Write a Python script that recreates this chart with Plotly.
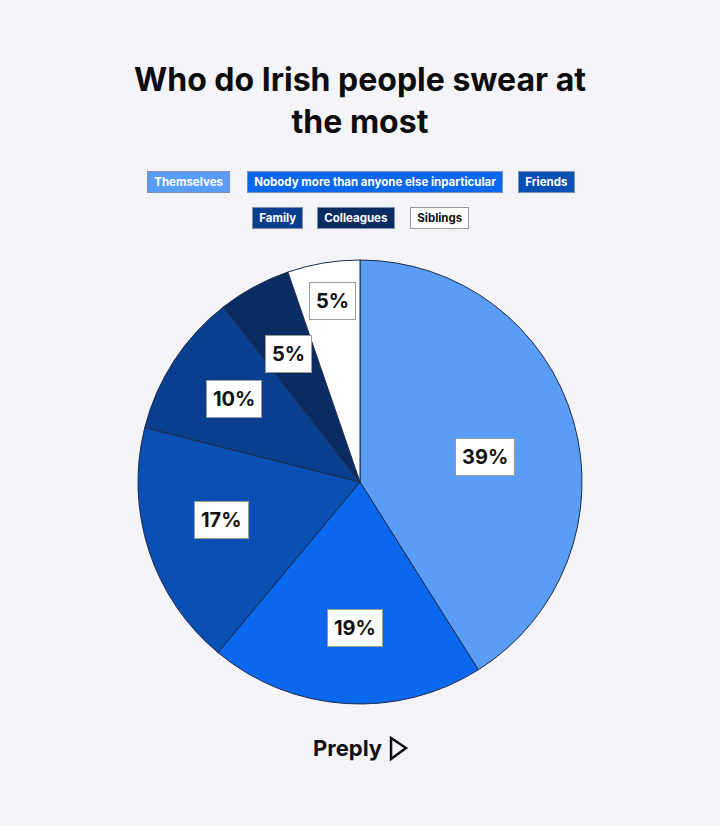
import math
import plotly.graph_objects as go

categories = ["Themselves", "Nobody more than anyone else inparticular", "Friends",
              "Family", "Colleagues", "Siblings"]
values = [39, 19, 17, 10, 5, 5]
value_labels = ["39%", "19%", "17%", "10%", "5%", "5%"]
colors = ["#5A9DF6", "#0A68EE", "#0A4FB4", "#0A3E8E", "#0A2C63", "#FFFFFF"]
legend_text_colors = ["#FFFFFF", "#FFFFFF", "#FFFFFF", "#FFFFFF", "#FFFFFF", "#111111"]

W, H = 720, 826
BG = "#F3F3F8"
CX, CY, R = 360, 482, 222
# label placement within each slice (fraction along the slice angle, fraction of radius)
label_angle_frac = [0.532, 0.475, 0.54, 0.50, 0.47, 0.54]
label_radius = [0.575, 0.66, 0.645, 0.68, 0.66, 0.825]

fig = go.Figure()
fig.add_trace(go.Pie(
    labels=categories, values=values, sort=False, direction="clockwise", rotation=0,
    marker=dict(colors=colors, line=dict(color="#1B2A4A", width=1)),
    textinfo="none", hoverinfo="label+value", showlegend=False,
    domain=dict(x=[(CX - R) / W, (CX + R) / W], y=[1 - (CY + R) / H, 1 - (CY - R) / H]),
))

annotations = []
total = sum(values)
cum = 0
for v, lab, af, rf in zip(values, value_labels, label_angle_frac, label_radius):
    ang = (cum + v * af) / total * 2 * math.pi
    cum += v
    px = CX + rf * R * math.sin(ang)
    py = CY - rf * R * math.cos(ang)
    annotations.append(dict(
        x=px / W, y=1 - py / H, xref="paper", yref="paper", text="<b>" + lab + "</b>",
        showarrow=False, font=dict(family="Inter, Open Sans, sans-serif", size=20, color="#111111"),
        bgcolor="#FFFFFF", bordercolor="#9A9A9A", borderwidth=1, borderpad=6,
        xanchor="center", yanchor="middle"))

# legend boxes
legend_pos = [(188, 182), (375, 182), (546, 182), (277, 218), (356, 218), (439, 218)]
for name, col, tcol, (lx, ly) in zip(categories, colors, legend_text_colors, legend_pos):
    annotations.append(dict(
        x=lx / W, y=1 - ly / H, xref="paper", yref="paper",
        text="&nbsp;<b>" + name + "</b>&nbsp;",
        showarrow=False, font=dict(family="Inter, Open Sans, sans-serif", size=11.5, color=tcol),
        bgcolor=col, bordercolor="#8090AA" if name != "Siblings" else "#999999",
        borderwidth=1, borderpad=3, xanchor="center", yanchor="middle"))

# title
annotations.append(dict(
    x=0.5, y=1 - 100 / H, xref="paper", yref="paper",
    text="<b>Who do Irish people swear at<br>the most</b>", showarrow=False,
    font=dict(family="Inter, Open Sans, sans-serif", size=32, color="#0D0D0D"),
    xanchor="center", yanchor="middle", align="center"))

# brand
annotations.append(dict(
    x=347 / W, y=1 - 748 / H, xref="paper", yref="paper", text="<b>Preply</b>",
    showarrow=False, font=dict(family="Inter, Open Sans, sans-serif", size=22, color="#111111"),
    xanchor="center", yanchor="middle"))

shapes = [dict(
    type="path", xref="paper", yref="paper",
    path="M {:.4f} {:.4f} L {:.4f} {:.4f} L {:.4f} {:.4f} L {:.4f} {:.4f} Z".format(
        391 / W, 1 - 738 / H, 406 / W, 1 - 748 / H, 391 / W, 1 - 759 / H, 391 / W, 1 - 738 / H),
    line=dict(color="#111111", width=2.5), fillcolor="rgba(0,0,0,0)")]

fig.update_layout(
    width=W, height=H, paper_bgcolor=BG, plot_bgcolor=BG,
    margin=dict(l=0, r=0, t=0, b=0), annotations=annotations, shapes=shapes,
)

fig.write_html("out.html", config={"displayModeBar": False},
               post_script="document.body.style.margin='0';document.body.style.background='" + BG + "';")
